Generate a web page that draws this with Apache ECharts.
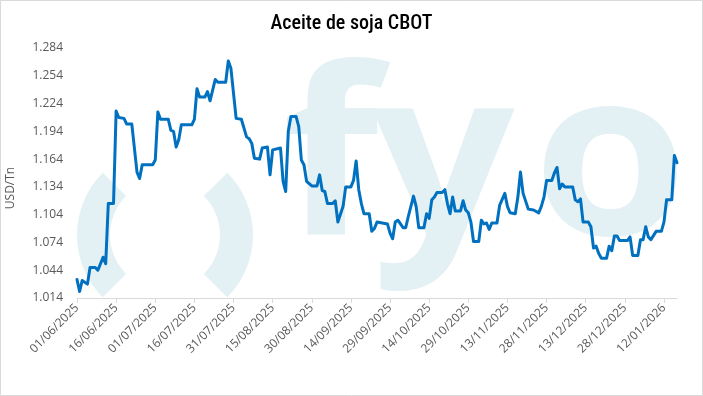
<!DOCTYPE html>
<html>
<head>
<meta charset="utf-8">
<script src="https://cdn.jsdelivr.net/npm/echarts@6/dist/echarts.min.js"></script>
<style>
html,body{margin:0;padding:0;background:#fff;}
#chart{width:703px;height:396px;}
</style>
</head>
<body>
<div id="chart"></div>
<script>
const title = 'Aceite de soja CBOT';
const yAxisName = 'USD/Tn';
const startDate = '2025-06-01';
const endDate = '2026-01-17';
const tickLabels = ['01/06/2025','16/06/2025','01/07/2025','16/07/2025','31/07/2025','15/08/2025','30/08/2025','14/09/2025','29/09/2025','14/10/2025','29/10/2025','13/11/2025','28/11/2025','13/12/2025','28/12/2025','12/01/2026'];
const yMin = 1014, yMax = 1284, yStep = 30;

const dates = [
'2025-06-01','2025-06-02','2025-06-03','2025-06-05','2025-06-06','2025-06-08','2025-06-09','2025-06-11','2025-06-12','2025-06-13',
'2025-06-15','2025-06-16','2025-06-17','2025-06-19','2025-06-20','2025-06-22','2025-06-24','2025-06-25','2025-06-26','2025-06-30',
'2025-07-01','2025-07-02','2025-07-03','2025-07-06','2025-07-07','2025-07-08','2025-07-09','2025-07-10','2025-07-11','2025-07-15',
'2025-07-16','2025-07-17','2025-07-18','2025-07-20','2025-07-21','2025-07-22','2025-07-24','2025-07-25','2025-07-28','2025-07-29',
'2025-07-30','2025-08-01','2025-08-03','2025-08-05','2025-08-06','2025-08-07','2025-08-08','2025-08-10','2025-08-11','2025-08-13',
'2025-08-14','2025-08-15','2025-08-18','2025-08-19','2025-08-20','2025-08-21','2025-08-22','2025-08-24','2025-08-25','2025-08-26',
'2025-08-27','2025-08-28','2025-08-30','2025-09-01','2025-09-02','2025-09-03','2025-09-04','2025-09-05','2025-09-07','2025-09-08',
'2025-09-09','2025-09-11','2025-09-12','2025-09-14','2025-09-15','2025-09-16','2025-09-17','2025-09-18','2025-09-19','2025-09-21',
'2025-09-22','2025-09-23','2025-09-24','2025-09-26','2025-09-28','2025-09-29','2025-09-30','2025-10-01','2025-10-02','2025-10-04',
'2025-10-05','2025-10-06','2025-10-08','2025-10-09','2025-10-10','2025-10-12','2025-10-13','2025-10-14','2025-10-15','2025-10-16',
'2025-10-17','2025-10-19','2025-10-20','2025-10-21','2025-10-22','2025-10-23','2025-10-24','2025-10-26','2025-10-27','2025-10-28',
'2025-10-29','2025-10-30','2025-10-31','2025-11-02','2025-11-03','2025-11-04','2025-11-05','2025-11-06','2025-11-07','2025-11-09',
'2025-11-10','2025-11-12','2025-11-13','2025-11-14','2025-11-16','2025-11-17','2025-11-18','2025-11-19','2025-11-21','2025-11-23',
'2025-11-25','2025-11-26','2025-11-27','2025-11-28','2025-11-30','2025-12-01','2025-12-02','2025-12-03','2025-12-04','2025-12-05',
'2025-12-08','2025-12-09','2025-12-10','2025-12-11','2025-12-12','2025-12-14','2025-12-15','2025-12-16','2025-12-17','2025-12-18',
'2025-12-19','2025-12-21','2025-12-22','2025-12-23','2025-12-24','2025-12-25','2025-12-26','2025-12-29','2025-12-30','2025-12-31',
'2026-01-02','2026-01-03','2026-01-04','2026-01-05','2026-01-06','2026-01-07','2026-01-09','2026-01-11','2026-01-12','2026-01-13',
'2026-01-15','2026-01-16','2026-01-17'
];
const prices = [
1034,1021,1033,1029,1047,1047,1044,1058,1051,1116,
1116,1216,1209,1208,1202,1202,1150,1143,1158,1158,
1163,1215,1207,1207,1195,1194,1177,1185,1201,1201,
1207,1240,1231,1231,1237,1227,1250,1247,1247,1270,
1262,1208,1207,1188,1186,1181,1165,1164,1176,1177,
1147,1174,1176,1140,1129,1194,1210,1210,1199,1163,
1158,1140,1135,1135,1147,1130,1129,1116,1116,1119,
1096,1113,1134,1134,1141,1162,1131,1116,1105,1105,
1086,1089,1096,1095,1094,1084,1078,1096,1098,1090,
1090,1102,1124,1113,1090,1090,1105,1100,1120,1123,
1128,1128,1131,1116,1105,1123,1108,1108,1119,1109,
1106,1096,1075,1075,1098,1094,1095,1088,1095,1095,
1114,1127,1113,1106,1105,1123,1150,1127,1110,1109,
1106,1113,1123,1141,1141,1149,1155,1132,1137,1134,
1134,1120,1118,1121,1096,1096,1091,1068,1070,1062,
1057,1057,1070,1065,1081,1081,1076,1076,1080,1060,
1060,1077,1077,1091,1080,1077,1086,1086,1096,1120,
1120,1168,1160
];

const DAY = 86400000;
const t0 = Date.parse(startDate + 'T00:00:00Z');
const isoToOffset = s => Math.round((Date.parse(s + 'T00:00:00Z') - t0) / DAY);
const dmyToOffset = s => { const p = s.split('/'); return isoToOffset(p[2] + '-' + p[1] + '-' + p[0]); };
const tickOffsets = tickLabels.map(dmyToOffset);
const labelByOffset = {};
tickLabels.forEach((l, i) => { labelByOffset[tickOffsets[i]] = l; });
const seriesData = dates.map((d, i) => [isoToOffset(d), prices[i]]);
const fmtThousands = v => { const s = String(Math.round(v)); return s.length > 3 ? s.slice(0, s.length - 3) + '.' + s.slice(-3) : s; };

const chart = echarts.init(document.getElementById('chart'), null, {renderer: 'canvas'});
const wmColor = '#e3f1f5';
const wmFont = {fontFamily: '"Open Sans", sans-serif', fontWeight: 'bold', fontSize: 232, fill: wmColor, textVerticalAlign: 'middle'};
chart.setOption({
  animation: false,
  backgroundColor: '#ffffff',
  title: {
    text: title,
    left: 'center',
    top: 9,
    textStyle: {fontFamily: '"Liberation Sans Narrow", "Roboto Condensed", Roboto, sans-serif', fontSize: 20, fontWeight: 500, color: '#000000'}
  },
  graphic: [
    {type: 'rect', z: 0, silent: true, shape: {x: 0.5, y: 0.5, width: 702, height: 395}, style: {fill: null, stroke: '#d9d9d9', lineWidth: 1}},
    {type: 'sector', z: 0, silent: true, shape: {cx: 165, cy: 235, r0: 55, r: 88, startAngle: Math.PI * 0.75, endAngle: Math.PI * 1.25, clockwise: true}, style: {fill: wmColor}},
    {type: 'sector', z: 0, silent: true, shape: {cx: 165, cy: 235, r0: 55, r: 88, startAngle: -Math.PI * 0.25, endAngle: Math.PI * 0.25, clockwise: true}, style: {fill: wmColor}},
    {type: 'text', z: 0, silent: true, x: 282, y: 169, scaleX: 1.08, style: Object.assign({text: 'f', textAlign: 'left'}, wmFont)},
    {type: 'text', z: 0, silent: true, x: 372, y: 169, scaleX: 1.08, style: Object.assign({text: 'y', textAlign: 'left'}, wmFont)},
    {type: 'text', z: 0, silent: true, x: 688, y: 169, scaleX: 1.08, style: Object.assign({text: 'o', textAlign: 'right'}, wmFont)},
    {type: 'text', z: 5, silent: true, x: 11, y: 188, rotation: Math.PI / 2, style: {text: yAxisName, fontFamily: '"Open Sans", sans-serif', fontSize: 12, fill: '#595959', textAlign: 'center', textVerticalAlign: 'middle'}}
  ],
  grid: {left: 77, right: 26, top: 48, bottom: 98, containLabel: false},
  xAxis: {
    type: 'value',
    min: 0,
    max: isoToOffset(endDate),
    splitLine: {show: false},
    axisLine: {show: true, onZero: false, lineStyle: {color: '#d9d9d9', width: 1}},
    axisTick: {show: true, inside: false, length: 5, lineStyle: {color: '#d9d9d9'}, customValues: tickOffsets},
    axisLabel: {
      customValues: tickOffsets,
      rotate: 45,
      margin: 8,
      color: '#595959',
      fontFamily: '"Open Sans", sans-serif',
      fontSize: 12,
      formatter: v => labelByOffset[Math.round(v)] || ''
    }
  },
  yAxis: {
    type: 'value',
    min: yMin,
    max: yMax,
    interval: yStep,
    splitLine: {show: false},
    axisLine: {show: false},
    axisTick: {show: false},
    axisLabel: {color: '#595959', fontFamily: '"Open Sans", sans-serif', fontSize: 12, margin: 14, formatter: fmtThousands}
  },
  series: [{
    type: 'line',
    data: seriesData,
    showSymbol: false,
    symbol: 'none',
    z: 3,
    lineStyle: {color: '#0070c0', width: 3, join: 'round', cap: 'round'}
  }]
});
</script>
</body>
</html>
